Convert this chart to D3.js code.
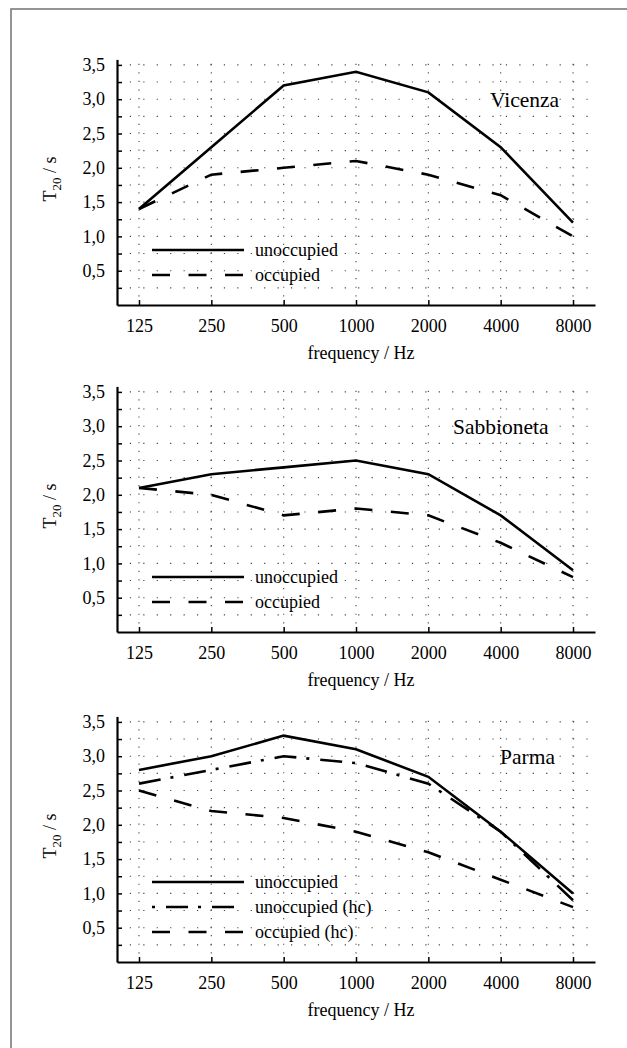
<!DOCTYPE html>
<html>
<head>
<meta charset="utf-8">
<script src="https://cdn.jsdelivr.net/npm/d3@7"></script>
<style>
  html, body { margin: 0; padding: 0; background: #fff; }
  svg { display: block; }
  text { font-family: "Liberation Serif", "Times New Roman", serif; fill: #000; }
</style>
</head>
<body>
<svg id="chart" width="627" height="1048"></svg>
<script>
// ---------- data ----------
const frequencies = ["125", "250", "500", "1000", "2000", "4000", "8000"];
const yTickValues = [0.25, 0.5, 0.75, 1.0, 1.25, 1.5, 1.75, 2.0, 2.25, 2.5, 2.75, 3.0, 3.25, 3.5];
const yLabelValues = [0.5, 1.0, 1.5, 2.0, 2.5, 3.0, 3.5];

const vicenzaUnoccupied   = [1.4, 2.3, 3.2, 3.4, 3.1, 2.3, 1.2];
const vicenzaOccupied     = [1.4, 1.9, 2.0, 2.1, 1.9, 1.6, 1.0];

const sabbionetaUnoccupied = [2.1, 2.3, 2.4, 2.5, 2.3, 1.7, 0.9];
const sabbionetaOccupied   = [2.1, 2.0, 1.7, 1.8, 1.7, 1.3, 0.8];

const parmaUnoccupied   = [2.8, 3.0, 3.3, 3.1, 2.7, 1.9, 1.0];
const parmaUnoccupiedHc = [2.6, 2.8, 3.0, 2.9, 2.6, 1.9, 0.9];
const parmaOccupiedHc   = [2.5, 2.2, 2.1, 1.9, 1.6, 1.2, 0.8];

const panelTitles = ["Vicenza", "Sabbioneta", "Parma"];
const xAxisTitle = "frequency / Hz";

// ---------- layout ----------
const svg = d3.select("#chart");

// outer frame
svg.append("rect")
  .attr("x", 11).attr("y", 9)
  .attr("width", 700).attr("height", 1100)
  .attr("fill", "none").attr("stroke", "#7a7a7a").attr("stroke-width", 1.6);

const dashStyles = {
  solid: null,
  dashed: "18 18.5",
  dashdot: "22 10 3 11"
};

const panels = [
  { title: panelTitles[0], bottom: 305, titleX: 490,
    series: [
      { label: "unoccupied", values: vicenzaUnoccupied, style: "solid" },
      { label: "occupied", values: vicenzaOccupied, style: "dashed" }
    ] },
  { title: panelTitles[1], bottom: 632, titleX: 453,
    series: [
      { label: "unoccupied", values: sabbionetaUnoccupied, style: "solid" },
      { label: "occupied", values: sabbionetaOccupied, style: "dashed" }
    ] },
  { title: panelTitles[2], bottom: 962, titleX: 500,
    series: [
      { label: "unoccupied", values: parmaUnoccupied, style: "solid" },
      { label: "unoccupied (hc)", values: parmaUnoccupiedHc, style: "dashdot" },
      { label: "occupied (hc)", values: parmaOccupiedHc, style: "dashed" }
    ] }
];

const axisLeftX = 117, axisRightX = 595;
const unit = 68.6; // px per second
const yMaxAxis = 3.58;

const x = d3.scalePoint().domain(frequencies).range([axisLeftX, axisRightX]).padding(0.304);

panels.forEach(p => {
  const y = d3.scaleLinear().domain([0, yMaxAxis]).range([p.bottom, p.bottom - yMaxAxis * unit]);
  const g = svg.append("g");

  // dotted grid: horizontal rows at every 0.25
  const rowStep = 13.43;
  const grid = g.append("g").attr("class", "grid");
  yTickValues.forEach(v => {
    grid.append("line")
      .attr("x1", axisLeftX + rowStep - 0.6).attr("x2", axisRightX)
      .attr("y1", y(v)).attr("y2", y(v))
      .attr("stroke", "#444").attr("stroke-width", 1.1)
      .attr("stroke-dasharray", "1.2 " + (rowStep - 1.2));
  });
  // vertical columns at each frequency
  frequencies.forEach(f => {
    grid.append("line")
      .attr("x1", x(f)).attr("x2", x(f))
      .attr("y1", y(0.125)).attr("y2", y(3.6))
      .attr("stroke", "#444").attr("stroke-width", 1.1)
      .attr("stroke-dasharray", "1.2 " + (0.125 * unit - 1.2));
  });

  // y axis
  const yAxis = d3.axisLeft(y)
    .tickValues(yTickValues)
    .tickSizeInner(-5).tickSizeOuter(0).tickPadding(12)
    .tickFormat(v => yLabelValues.some(l => Math.abs(l - v) < 1e-9) ? d3.format(".1f")(v).replace(".", ",") : "");
  const ya = g.append("g").attr("transform", `translate(${axisLeftX},0)`).call(yAxis);
  ya.attr("font-family", null);
  ya.select(".domain").attr("stroke", "#000").attr("stroke-width", 2.2);
  ya.selectAll(".tick line").attr("stroke", "#000").attr("stroke-width", 1.5);
  ya.selectAll(".tick text").attr("font-size", 18);

  // x axis
  const xAxis = d3.axisBottom(x).tickSizeInner(-5).tickSizeOuter(0).tickPadding(14);
  const xa = g.append("g").attr("transform", `translate(0,${p.bottom})`).call(xAxis);
  xa.attr("font-family", null);
  xa.select(".domain").attr("stroke", "#000").attr("stroke-width", 2.2);
  xa.selectAll(".tick line").attr("stroke", "#000").attr("stroke-width", 1.5);
  xa.selectAll(".tick text").attr("font-size", 18);

  // x axis title
  g.append("text")
    .attr("x", (axisLeftX + axisRightX) / 2 + 5).attr("y", p.bottom + 54)
    .attr("text-anchor", "middle").attr("font-size", 18)
    .text(xAxisTitle);

  // y axis title  T20 / s
  const yt = g.append("text")
    .attr("transform", `translate(56,${p.bottom - 126}) rotate(-90)`)
    .attr("text-anchor", "middle").attr("font-size", 18);
  yt.append("tspan").text("T");
  yt.append("tspan").attr("font-size", 13).attr("dy", 5).text("20");
  yt.append("tspan").attr("dy", -5).text(" / s");

  // panel title
  g.append("text")
    .attr("x", p.titleX).attr("y", y(3.0) + 8)
    .attr("font-size", 21.5)
    .text(p.title);

  // lines
  const line = d3.line()
    .x((d, i) => x(frequencies[i]))
    .y(d => y(d));
  p.series.forEach(s => {
    g.append("path")
      .datum(s.values)
      .attr("d", line)
      .attr("fill", "none").attr("stroke", "#000").attr("stroke-width", 2.6)
      .attr("stroke-linejoin", "miter")
      .attr("stroke-dasharray", dashStyles[s.style]);
  });

  // legend
  const n = p.series.length;
  p.series.forEach((s, i) => {
    const ly = p.bottom - 30 - 25 * (n - 1 - i);
    g.append("line")
      .attr("x1", 152).attr("x2", 244).attr("y1", ly).attr("y2", ly)
      .attr("stroke", "#000").attr("stroke-width", 2.6)
      .attr("stroke-dasharray", dashStyles[s.style])
      .attr("stroke-dashoffset", s.style === "dashdot" ? 32 : 0);
    g.append("text")
      .attr("x", 255).attr("y", ly + 6)
      .attr("font-size", 18)
      .text(s.label);
  });
});
</script>
</body>
</html>
